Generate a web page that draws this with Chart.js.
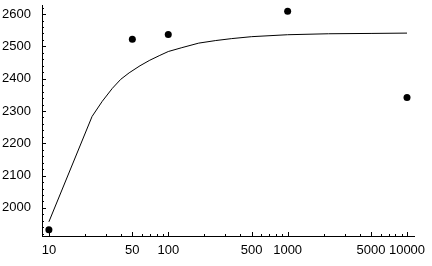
<!DOCTYPE html>
<html>
<head>
<meta charset="utf-8">
<script src="https://cdn.jsdelivr.net/npm/chart.js@4"></script>
<style>
  html, body { margin: 0; padding: 0; background: #fff; }
  #wrap { width: 432px; height: 266px; }
</style>
</head>
<body>
<div id="wrap"><canvas id="grafico"></canvas></div>
<script>
// measured points
const pontosX = [10, 50, 100, 1000, 10000];
const pontosY = [1932, 2522, 2537, 2609, 2342];

// fitted curve
const curvaX = [10, 23, 28, 34, 40, 47, 58, 70, 85, 100, 130, 180, 250, 340, 500, 1000, 2200, 5000, 10000];
const curvaY = [1957, 2283, 2330, 2370, 2398, 2418, 2440, 2457, 2472, 2484, 2496, 2510, 2518, 2524, 2530, 2536, 2539, 2540, 2541];

// axis ticks
const ticksX = [10, 50, 100, 500, 1000, 5000, 10000];
const ticksY = [2000, 2100, 2200, 2300, 2400, 2500, 2600];

const fonte = { family: 'Liberation Sans, Arial, sans-serif', size: 13 };

// small inward tick marks, like the original plot
const marcasInternas = {
  id: 'marcasInternas',
  afterDraw(chart) {
    const ctx = chart.ctx;
    const x = chart.scales.x, y = chart.scales.y;
    const area = chart.chartArea;
    ctx.save();
    ctx.strokeStyle = '#000';
    ctx.lineWidth = 1;
    ctx.beginPath();
    // y axis: every 20
    for (let v = Math.ceil(y.min / 20) * 20; v <= y.max; v += 20) {
      const py = Math.round(y.getPixelForValue(v)) + 0.5;
      const len = v % 100 === 0 ? 4 : 2;
      ctx.moveTo(area.left, py);
      ctx.lineTo(area.left + len, py);
    }
    // x axis: log minor ticks
    for (let dec = 10; dec <= 10000; dec *= 10) {
      for (let m = 1; m < 10; m++) {
        const v = dec * m;
        if (v < x.min || v > x.max) continue;
        const px = Math.round(x.getPixelForValue(v)) + 0.5;
        const len = ticksX.includes(v) ? 4 : 2;
        ctx.moveTo(px, area.bottom);
        ctx.lineTo(px, area.bottom - len);
      }
    }
    ctx.stroke();
    ctx.restore();
  }
};

new Chart(document.getElementById('grafico'), {
  type: 'scatter',
  data: {
    datasets: [
      {
        type: 'line',
        data: curvaX.map((v, i) => ({ x: v, y: curvaY[i] })),
        borderColor: '#000',
        borderWidth: 1,
        pointRadius: 0,
        tension: 0,
        fill: false
      },
      {
        data: pontosX.map((v, i) => ({ x: v, y: pontosY[i] })),
        backgroundColor: '#000',
        borderColor: '#000',
        pointRadius: 3.5,
        borderWidth: 0
      }
    ]
  },
  options: {
    responsive: true,
    maintainAspectRatio: false,
    animation: false,
    layout: { padding: { top: 5, right: 18, left: 0, bottom: 0 } },
    plugins: { legend: { display: false }, tooltip: { enabled: false } },
    scales: {
      x: {
        type: 'logarithmic',
        min: 8.754,
        max: 11445,
        grid: { display: false, drawTicks: false },
        border: { display: true, color: '#000', width: 1 },
        afterBuildTicks: (s) => { s.ticks = ticksX.map(v => ({ value: v })); },
        afterFit: (s) => { s.height = 30; s.paddingLeft = 0; s.paddingRight = 0; },
        ticks: {
          autoSkip: false,
          maxRotation: 0,
          padding: 7,
          color: '#000',
          font: fonte,
          callback: (v) => String(v)
        }
      },
      y: {
        min: 1913,
        max: 2628,
        grid: { display: false, drawTicks: false },
        border: { display: true, color: '#000', width: 1 },
        afterBuildTicks: (s) => { s.ticks = ticksY.map(v => ({ value: v })); },
        afterFit: (s) => { s.width = 42; s.paddingTop = 0; s.paddingBottom = 0; },
        ticks: {
          padding: 11,
          color: '#000',
          font: fonte,
          callback: (v) => String(v)
        }
      }
    }
  },
  plugins: [marcasInternas]
});
</script>
</body>
</html>
